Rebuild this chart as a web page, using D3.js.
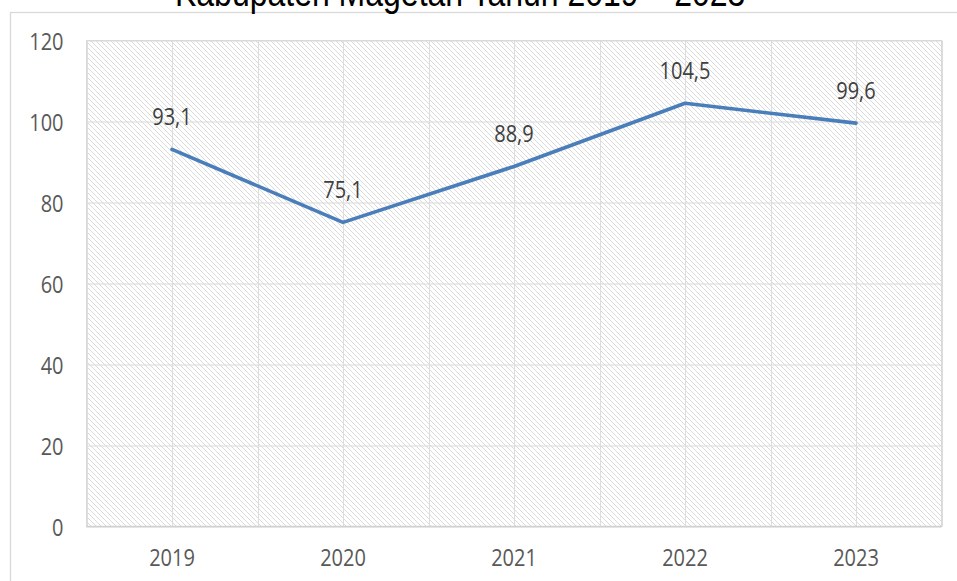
<!DOCTYPE html>
<html>
<head>
<meta charset="utf-8">
<script src="https://cdn.jsdelivr.net/npm/d3@7"></script>
<style>
  html, body { margin: 0; padding: 0; background: #fff; }
  svg { display: block; }
</style>
</head>
<body>
<svg id="chart" width="957" height="581"></svg>
<script>
// ---- data ----
const titleText = "Kabupaten Magetan Tahun 2019 \u2013 2023";
const categories = ["2019", "2020", "2021", "2022", "2023"];
const values = [93.1, 75.1, 88.9, 104.5, 99.6];
const yTicks = [0, 20, 40, 60, 80, 100, 120];

// ---- layout ----
const W = 957, H = 581;
const plot = { left: 86.5, right: 941.5, top: 40.5, bottom: 526.5 };
const stretch = 1.2;
const svg = d3.select("#chart");

const defs = svg.append("defs");
const pat = defs.append("pattern")
  .attr("id", "hatch").attr("patternUnits", "userSpaceOnUse")
  .attr("width", 5).attr("height", 5);
pat.append("rect").attr("width", 5).attr("height", 5).attr("fill", "#fff");
pat.append("path")
  .attr("d", "M0,0L5,5M-1,4L1,6M4,-1L6,1")
  .attr("stroke", "#dadada").attr("stroke-width", 1);

// outer chart border
svg.append("rect").attr("x", 10.5).attr("y", 12.5)
  .attr("width", 980).attr("height", 620)
  .attr("fill", "#fff").attr("stroke", "#d9d9d9").attr("stroke-width", 1.3);

// title (clipped at top in reference)
svg.append("text")
  .attr("transform", `translate(175,5.5) scale(1,${stretch})`)
  .attr("font-family", "'Liberation Sans', Arial, sans-serif")
  .attr("font-size", 32).attr("fill", "#000")
  .text(titleText);

const x = d3.scaleBand().domain(categories).range([plot.left, plot.right]).padding(0);
const y = d3.scaleLinear().domain([0, 120]).range([plot.bottom, plot.top]);

// plot background hatch
svg.append("rect")
  .attr("x", plot.left).attr("y", plot.top)
  .attr("width", plot.right - plot.left).attr("height", plot.bottom - plot.top)
  .attr("fill", "url(#hatch)");

// horizontal gridlines
svg.append("g")
  .attr("transform", `translate(${plot.left},0)`)
  .call(d3.axisLeft(y).tickValues(yTicks).tickSize(-(plot.right - plot.left)).tickFormat(""))
  .call(g => g.select(".domain").remove())
  .call(g => g.selectAll("line").attr("stroke", "#d9d9d9").attr("stroke-width", 1));

// vertical gridlines: band edges and band centres
const vLines = [];
categories.forEach(c => { vLines.push(x(c)); vLines.push(x(c) + x.bandwidth() / 2); });
vLines.push(x(categories[categories.length - 1]) + x.bandwidth());
svg.append("g").selectAll("line").data(vLines).join("line")
  .attr("x1", d => Math.round(d) + 0.5).attr("x2", d => Math.round(d) + 0.5)
  .attr("y1", plot.top).attr("y2", plot.bottom)
  .attr("stroke", "#dddddd").attr("stroke-width", 1);

// plot border
svg.append("rect")
  .attr("x", plot.left).attr("y", plot.top)
  .attr("width", plot.right - plot.left).attr("height", plot.bottom - plot.top)
  .attr("fill", "none").attr("stroke", "#d9d9d9").attr("stroke-width", 1);

// bottom axis line
svg.append("line")
  .attr("x1", plot.left).attr("x2", plot.right)
  .attr("y1", plot.bottom).attr("y2", plot.bottom)
  .attr("stroke", "#d0d0d0").attr("stroke-width", 1.3);

const fontFam = "'Open Sans', 'Noto Sans', sans-serif";

// y axis labels
svg.append("g")
  .attr("transform", `translate(${plot.left},0)`)
  .call(d3.axisLeft(y).tickValues(yTicks).tickSize(0).tickFormat(d3.format("d")))
  .call(g => g.select(".domain").remove())
  .call(g => g.selectAll("text")
    .attr("x", null).attr("dy", null).attr("y", null)
    .attr("transform", `translate(-23,0) scale(1,${stretch})`)
    .attr("dy", "0.36em")
    .attr("text-anchor", "end")
    .attr("font-family", fontFam).attr("font-size", 20).attr("fill", "#595959"));

// x axis labels
svg.append("g")
  .attr("transform", `translate(0,${plot.bottom})`)
  .call(d3.axisBottom(x).tickSize(0))
  .call(g => g.select(".domain").remove())
  .call(g => g.selectAll("text")
    .attr("y", null).attr("dy", null)
    .attr("transform", `translate(0,39) scale(1,${stretch})`)
    .attr("text-anchor", "middle")
    .attr("font-family", fontFam).attr("font-size", 20).attr("fill", "#595959"));

// line
const pts = categories.map((c, i) => ({ c, v: values[i] }));
const line = d3.line().x(d => x(d.c) + x.bandwidth() / 2).y(d => y(d.v));
svg.append("path").datum(pts)
  .attr("d", line)
  .attr("fill", "none").attr("stroke", "#4a7ebb")
  .attr("stroke-width", 3.6).attr("stroke-linejoin", "round").attr("stroke-linecap", "round");

// data labels
const fmt = v => d3.format(".1f")(v).replace(".", ",");
svg.append("g").selectAll("text").data(pts).join("text")
  .attr("transform", d => `translate(${x(d.c) + x.bandwidth() / 2},${y(d.v) - 24}) scale(1,${stretch})`)
  .attr("text-anchor", "middle")
  .attr("font-family", fontFam).attr("font-size", 20).attr("fill", "#404040")
  .text(d => fmt(d.v));
</script>
</body>
</html>
